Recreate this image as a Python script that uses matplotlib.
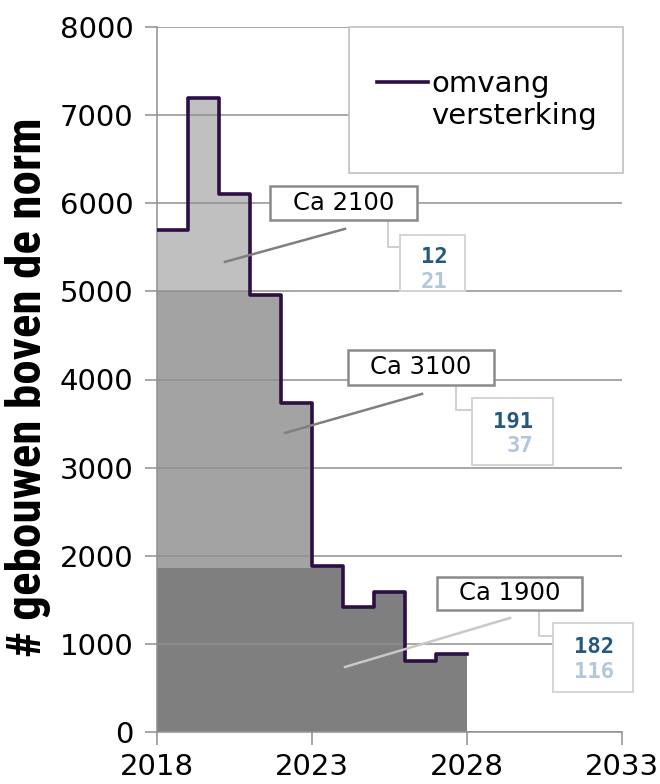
import matplotlib.pyplot as plt
from matplotlib.patches import Rectangle
import numpy as np

# data
jaren = [2018, 2019, 2020, 2021, 2022, 2023, 2024, 2025, 2026, 2027]
omvang = [5700, 7200, 6100, 4960, 3730, 1880, 1420, 1590, 810, 880]
ca1900 = [1860, 1860, 1860, 1860, 1860, 1880, 1420, 1590, 810, 880]
ca3100 = [3140, 3140, 3140, 3100, 1870, 0, 0, 0, 0, 0]
ca2100 = [700, 2200, 1100, 0, 0, 0, 0, 0, 0, 0]
xticks = [2018, 2023, 2028, 2033]
yticks = [0, 1000, 2000, 3000, 4000, 5000, 6000, 7000, 8000]
labels = ['Ca 2100', 'Ca 3100', 'Ca 1900']
aantal_donker = ['12', '191', '182']
aantal_licht = ['21', '37', '116']

W, H = 660, 784
fig = plt.figure(figsize=(6.6, 7.84), dpi=100)
ax = fig.add_axes([157 / W, 1 - 732 / H, (622 - 157) / W, (732 - 27) / H])


def px(x, y):
    # pixel position in the picture -> data coordinates
    return 2018 + (x - 157) / 31.0, (732 - y) / 88.1 * 1000


# stacked blocks
b1 = np.array(ca1900)
b2 = b1 + np.array(ca3100)
ax.bar(jaren, ca1900, width=1, align='edge', color='#7f7f7f', zorder=1)
ax.bar(jaren, ca3100, bottom=b1, width=1, align='edge', color='#a3a3a3', zorder=1)
ax.bar(jaren, ca2100, bottom=b2, width=1, align='edge', color='#c0c0c0', zorder=1)

# step line
xs = jaren + [jaren[-1] + 1]
ys = omvang + [omvang[-1]]
ax.step(xs, ys, where='post', color='#2d0f45', lw=2.6, zorder=3)

ax.set_xlim(2018, 2033)
ax.set_ylim(0, 8000)
ax.set_xticks(xticks)
ax.set_yticks(yticks)
ax.set_axisbelow(False)
ax.grid(axis='y', color='#8f8f8f', lw=1.1, zorder=2)
for s in ['top', 'right']:
    ax.spines[s].set_visible(False)
for s in ['left', 'bottom']:
    ax.spines[s].set_color('#8f8f8f')
    ax.spines[s].set_linewidth(1.1)
ax.tick_params(colors='#8f8f8f', labelcolor='black', labelsize=21, length=9, width=1.1)
ax.tick_params(axis='y', pad=8)
ax.tick_params(axis='x', pad=6)

# y label: condensed bold, sized to span the same height as in the original
ylab = fig.text(28 / W, 1 - 387 / H, '# gebouwen boven de norm', rotation=90,
                fontsize=27, fontweight='bold', fontstretch='condensed',
                family=['Liberation Sans Narrow', 'Roboto Condensed', 'DejaVu Sans'],
                ha='center', va='center')
r = fig.canvas.get_renderer()
hgt = ylab.get_window_extent(r).height
ylab.set_fontsize(27 * 539 / hgt)

# legend box
x0, y0 = px(349, 173)
x1, y1 = px(623, 27)
ax.add_patch(Rectangle((x0, y0), x1 - x0, y1 - y0, facecolor='white',
                       edgecolor='#c0c0c0', lw=1.2, zorder=5, clip_on=False))
lx0, ly = px(377, 82)
lx1, _ = px(428, 82)
ax.plot([lx0, lx1], [ly, ly], color='#2d0f45', lw=2.6, zorder=6)
tx, ty = px(431, 100)
ax.text(tx, ty, 'omvang\nversterking', fontsize=21, va='center', ha='left', zorder=6)

# labels with leader lines and count boxes
big_boxes = [(270, 186, 417, 220), (348, 350, 494, 385), (437, 577, 582, 610)]
leaders = [((225, 262), (345, 229)), ((285, 433), (422, 394)), ((345, 667), (510, 618))]
leader_kleur = ['#7f7f7f', '#7f7f7f', '#c8c8c8']
small_boxes = [(400, 235, 465, 291), (472, 398, 553, 465), (553, 623, 633, 692)]
connectors = [(388, 220, 247), (456, 385, 410), (539, 610, 636)]
num_right = [448, 533, 614]
num_y = [(257, 282), (422, 446), (647, 672)]

for i in range(3):
    (a, b), (c, d) = leaders[i]
    xa, ya = px(a, b)
    xc, yc = px(c, d)
    ax.plot([xa, xc], [ya, yc], color=leader_kleur[i], lw=1.8, zorder=4)

    cx, cy0, cy1 = connectors[i]
    sx = small_boxes[i][0]
    p = [px(cx, cy0), px(cx, cy1), px(sx, cy1)]
    ax.plot([q[0] for q in p], [q[1] for q in p], color='#cfcfcf', lw=1.4, zorder=4,
            clip_on=False)

    l, t, rr, bt = big_boxes[i]
    bx0, by0 = px(l, bt)
    bx1, by1 = px(rr, t)
    ax.add_patch(Rectangle((bx0, by0), bx1 - bx0, by1 - by0, facecolor='white',
                           edgecolor='#8a8a8a', lw=1.8, zorder=5))
    ax.text((bx0 + bx1) / 2, (by0 + by1) / 2, labels[i], fontsize=17.5,
            ha='center', va='center', zorder=6)

    l, t, rr, bt = small_boxes[i]
    bx0, by0 = px(l, bt)
    bx1, by1 = px(rr, t)
    ax.add_patch(Rectangle((bx0, by0), bx1 - bx0, by1 - by0, facecolor='white',
                           edgecolor='#d4d4d4', lw=1.4, zorder=5, clip_on=False))
    nx, ny1 = px(num_right[i], num_y[i][0])
    _, ny2 = px(num_right[i], num_y[i][1])
    ax.text(nx, ny1, aantal_donker[i], fontsize=16, fontweight='bold',
            family='DejaVu Sans Mono', color='#24587f', ha='right', va='center', zorder=6)
    ax.text(nx, ny2, aantal_licht[i], fontsize=16, fontweight='bold',
            family='DejaVu Sans Mono', color='#b3c7db', ha='right', va='center', zorder=6)

fig.savefig('out.png', dpi=100)
